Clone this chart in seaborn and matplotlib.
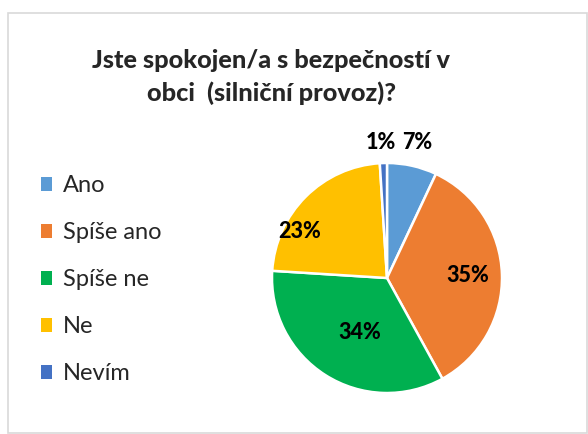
import numpy as np
import matplotlib
matplotlib.use("Agg")
import matplotlib.pyplot as plt
import seaborn as sns
from matplotlib.patches import Patch, Rectangle

categories = ["Ano", "Spíše ano", "Spíše ne", "Ne", "Nevím"]
values = [7, 35, 34, 23, 1]
colors = ["#5B9BD5", "#ED7D31", "#00B050", "#FFC000", "#4472C4"]
title = "Jste spokojen/a s bezpečností v\nobci  (silniční provoz)?"

sns.set_theme(style="white")
plt.rcParams["font.family"] = ["Lato", "DejaVu Sans"]

fig = plt.figure(figsize=(5.88, 4.34), dpi=100)

# light grey chart frame
fig.patches.append(Rectangle((8 / 588, 1 / 434), 579 / 588, 420 / 434,
                             transform=fig.transFigure, fill=False,
                             edgecolor="#D9D9D9", linewidth=1.2))

fig.text(0.461, 0.823, title, ha="center", va="center", fontsize=18.2,
         fontweight="black", linespacing=1.45)

# pie axes: center ~ (387, 278) px, radius ~115 px
ax = fig.add_axes([(387 - 115) / 588, (156 - 115) / 434, 230 / 588, 230 / 434])
wedges, texts, autotexts = ax.pie(
    values, colors=colors, startangle=90, counterclock=False,
    autopct=lambda p: f"{p:.0f}%", pctdistance=0.7,
    wedgeprops=dict(edgecolor="white", linewidth=1.8),
    textprops=dict(fontsize=15.5, fontweight="black", color="black"))
ax.set_xlim(-1, 1)
ax.set_ylim(-1, 1)
ax.set_aspect("equal")
ax.axis("off")

# label placement similar to Excel's "best fit"
for w, t, v in zip(wedges, autotexts, values):
    ang = np.deg2rad((w.theta1 + w.theta2) / 2)
    if v < 5:
        r = 1.18
        t.set_position((r * np.cos(ang) - 0.02, r * np.sin(ang)))
        continue
    elif v < 10:
        r, da = 1.21, 0.0
    elif v < 30:
        r, da = 0.86, 0.3
    elif v < 35:
        r, da = 0.53, 0.11
    else:
        r, da = 0.70, 0.0
    t.set_position((r * np.cos(ang + da), r * np.sin(ang + da)))

handles = [Patch(facecolor=c, edgecolor="none") for c in colors]
fig.legend(handles, categories, loc="upper left",
           bbox_to_anchor=(0.033, 0.645), frameon=False, fontsize=17,
           handlelength=0.5, handleheight=0.5, handletextpad=0.45,
           labelspacing=1.1)

fig.savefig("out.png", dpi=100)
